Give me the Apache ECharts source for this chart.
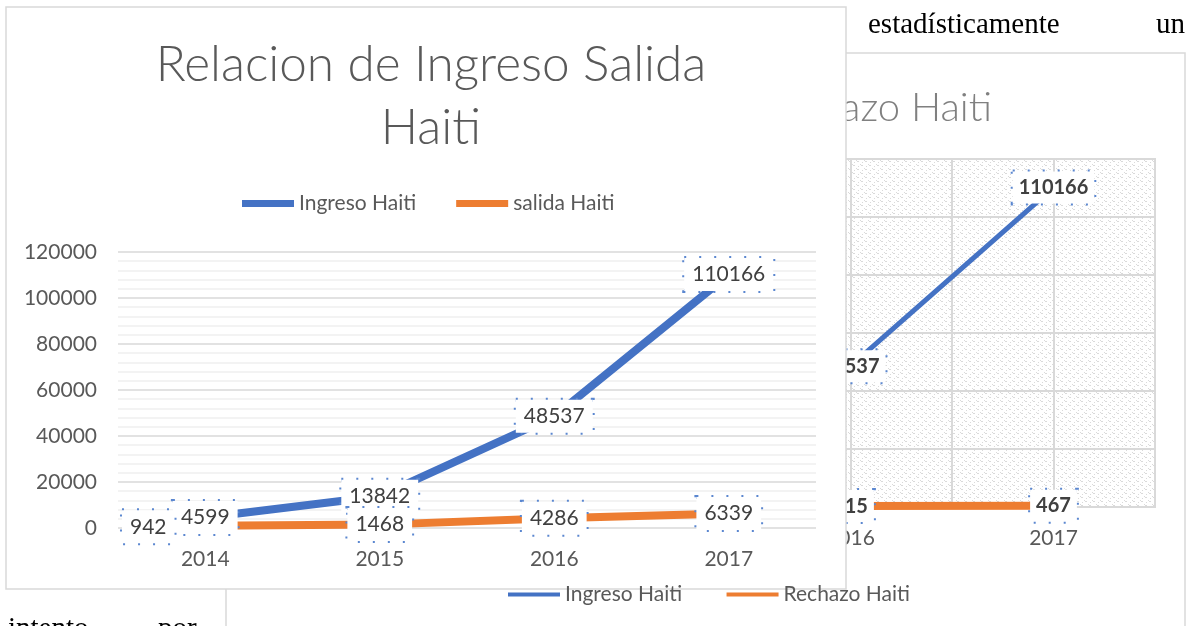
<!DOCTYPE html>
<html lang="es">
<head>
    <meta charset="UTF-8">
    <title>Relacion de Ingreso Salida Haiti</title>
    <script src="https://cdn.jsdelivr.net/npm/echarts@6/dist/echarts.min.js"></script>
    <style>
        html, body { margin: 0; padding: 0; background: #fff; }
        #main { width: 1188px; height: 626px; }
    </style>
</head>
<body>
<div id="main"></div>
<script>
    // datos
    var years = ['2014', '2015', '2016', '2017'];
    var ingreso = [4599, 13842, 48537, 110166];
    var salida = [942, 1468, 4286, 6339];
    // grafico de atras: solo 2016 y 2017 se ven
    var ingresoAtras = [4599, 13842, 48537, 110166];
    var rechazo = [null, null, 315, 467];
    var yTicks = { min: 0, max: 120000, interval: 20000 };

    var azul = '#4472C4';
    var naranja = '#ED7D31';
    var gris = '#595959';
    var font = 'Lato, "Open Sans", sans-serif';
    var serif = '29px "Liberation Serif", serif';

    // trama gris del fondo del grafico de atras
    function trama() {
        var c = document.createElement('canvas');
        c.width = 8; c.height = 8;
        var ctx = c.getContext('2d');
        ctx.fillStyle = '#ffffff';
        ctx.fillRect(0, 0, 8, 8);
        ctx.fillStyle = '#dadada';
        var pts = [[0,0],[1,1],[2,1],[4,4],[5,5],[6,5],[2,6],[6,2]];
        for (var i = 0; i < pts.length; i++) ctx.fillRect(pts[i][0], pts[i][1], 1, 1);
        return c;
    }

    var etiqueta = {
        show: true,
        position: 'inside',
        color: '#404040',
        fontFamily: font,
        fontSize: 21,
        backgroundColor: '#fff',
        padding: [6, 8],
        borderColor: '#5b87d0',
        borderWidth: 2,
        borderType: [2, 13]
    };
    var etiquetaNegrita = Object.assign({}, etiqueta, { fontWeight: 'bold', fontSize: 20, padding: [6, 6] });

    var chart = echarts.init(document.getElementById('main'));
    var option = {
        animation: false,
        textStyle: { fontFamily: font },
        title: [
            {   // atras
                text: 'Relacion de Ingreso Rechazo Haiti',
                left: 987, top: 79, textAlign: 'right',
                textStyle: { fontSize: 40, fontWeight: 300, color: '#808080', lineHeight: 48, fontFamily: font },
                z: 1
            },
            {   // adelante
                text: 'Relacion de Ingreso Salida\nHaiti',
                left: 426, top: 29, textAlign: 'center',
                textStyle: { fontSize: 49.5, fontWeight: 300, color: gris, lineHeight: 63, fontFamily: font },
                z: 12
            }
        ],
        legend: [
            {
                data: ['Ingreso Haiti', 'salida Haiti'],
                left: 237, top: 188,
                icon: 'rect', itemWidth: 52, itemHeight: 7, itemGap: 40,
                textStyle: { fontSize: 21, color: gris, fontFamily: font },
                z: 12
            },
            {
                data: ['Ingreso Haiti ', 'Rechazo Haiti'],
                left: 503, top: 579,
                icon: 'rect', itemWidth: 52, itemHeight: 4, itemGap: 39,
                textStyle: { fontSize: 21, color: gris, fontFamily: font },
                z: 15
            }
        ],
        graphic: [
            { type: 'text', left: 868, top: 11, z: 0,
              style: { text: 'estadísticamente', font: serif, fill: '#000' } },
            { type: 'text', right: 3, top: 11, z: 0,
              style: { text: 'un', font: serif, fill: '#000' } },
            { type: 'text', left: 8, top: 615, z: 0,
              style: { text: 'intento', font: serif, fill: '#000' } },
            { type: 'text', left: 158, top: 615, z: 0,
              style: { text: 'por', font: serif, fill: '#000' } },
            { type: 'rect', z: 0, silent: true,
              shape: { x: 226, y: 53, width: 959, height: 640 },
              style: { fill: '#fff', stroke: '#d9d9d9', lineWidth: 1.5 } },
            { type: 'rect', z: 10, silent: true,
              shape: { x: 6, y: 7, width: 840, height: 582 },
              style: { fill: '#fff', stroke: '#d9d9d9', lineWidth: 1.5 } }
        ],
        grid: [
            {   // atras
                left: 343, right: 33, top: 159, bottom: 119,
                show: true, z: 1,
                backgroundColor: { image: trama(), repeat: 'repeat' },
                borderColor: '#d9d9d9', borderWidth: 2
            },
            {   // adelante
                left: 118, right: 372, top: 252, bottom: 98,
                z: 11
            }
        ],
        xAxis: [
            {
                type: 'category', gridIndex: 0, data: years, z: 1,
                axisLine: { show: false }, axisTick: { show: false },
                axisLabel: { fontSize: 21, color: gris, margin: 21 }
            },
            {
                type: 'value', gridIndex: 0, min: 0, max: 8, interval: 1, z: 1,
                axisLine: { show: false }, axisTick: { show: false }, axisLabel: { show: false },
                splitLine: { lineStyle: { color: '#d9d9d9', width: 2 } }
            },
            {
                type: 'category', gridIndex: 1, data: years, z: 11,
                axisLine: { show: false }, axisTick: { show: false },
                axisLabel: { fontSize: 21, color: gris, margin: 21 }
            }
        ],
        yAxis: [
            {
                type: 'value', gridIndex: 0, min: yTicks.min, max: yTicks.max, interval: yTicks.interval, z: 1,
                axisLabel: { show: false },
                splitLine: { lineStyle: { color: '#d9d9d9', width: 2 } }
            },
            {
                type: 'value', gridIndex: 1, min: yTicks.min, max: yTicks.max, interval: yTicks.interval, z: 11,
                axisLabel: { fontSize: 21, color: gris, margin: 21, formatter: function (v) { return String(v); } },
                splitLine: { lineStyle: { color: '#d9d9d9', width: 1.5 } },
                minorTick: { show: false, splitNumber: 5 },
                minorSplitLine: { show: true, lineStyle: { color: '#efefef', width: 1.5 } }
            }
        ],
        series: [
            {
                name: 'Ingreso Haiti ', type: 'line', xAxisIndex: 0, yAxisIndex: 0, z: 2,
                data: ingresoAtras, color: azul, symbol: 'circle', symbolSize: 0, showSymbol: true,
                lineStyle: { width: 5 },
                label: etiquetaNegrita
            },
            {
                name: 'Rechazo Haiti', type: 'line', xAxisIndex: 0, yAxisIndex: 0, z: 2,
                data: rechazo, color: naranja, symbol: 'circle', symbolSize: 0, showSymbol: true,
                lineStyle: { width: 8 },
                label: etiquetaNegrita
            },
            {
                name: 'Ingreso Haiti', type: 'line', xAxisIndex: 2, yAxisIndex: 1, z: 12,
                data: ingreso, color: azul, symbol: 'circle', symbolSize: 0, showSymbol: true,
                lineStyle: { width: 8 },
                label: etiqueta
            },
            {
                name: 'salida Haiti', type: 'line', xAxisIndex: 2, yAxisIndex: 1, z: 12,
                data: salida.map(function (v, i) {
                    // la etiqueta de 2014 queda a la izquierda del punto
                    return i === 0 ? { value: v, label: { offset: [-57, 1] } } : v;
                }),
                color: naranja, symbol: 'circle', symbolSize: 0, showSymbol: true,
                lineStyle: { width: 8 },
                label: etiqueta
            }
        ]
    };
    chart.setOption(option);
</script>
</body>
</html>
